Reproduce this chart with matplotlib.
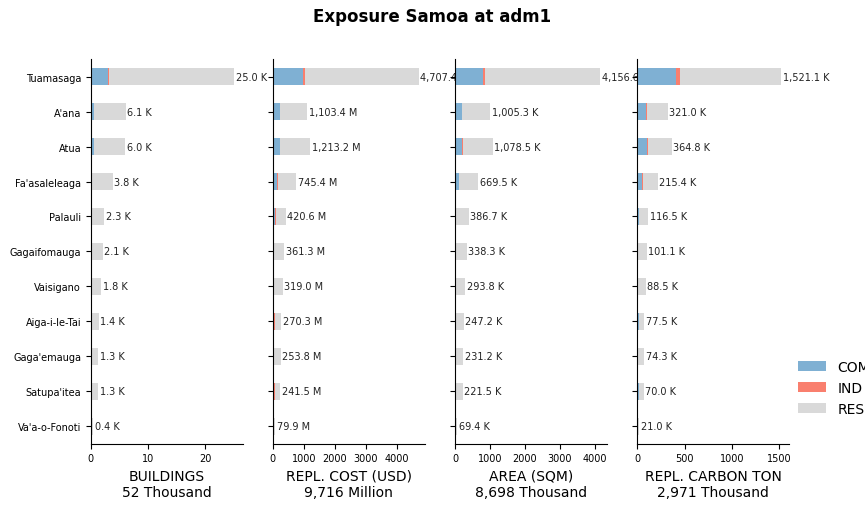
import matplotlib.pyplot as plt
import numpy as np

regions = ["Tuamasaga", "A'ana", "Atua", "Fa'asaleleaga", "Palauli", "Gagaifomauga",
           "Vaisigano", "Aiga-i-le-Tai", "Gaga'emauga", "Satupa'itea", "Va'a-o-Fonoti"]

# totals per panel
bld_tot = [25.0, 6.1, 6.0, 3.8, 2.3, 2.1, 1.8, 1.4, 1.3, 1.3, 0.4]
cost_tot = [4707.4, 1103.4, 1213.2, 745.4, 420.6, 361.3, 319.0, 270.3, 253.8, 241.5, 79.9]
area_tot = [4156.6, 1005.3, 1078.5, 669.5, 386.7, 338.3, 293.8, 247.2, 231.2, 221.5, 69.4]
carb_tot = [1521.1, 321.0, 364.8, 215.4, 116.5, 101.1, 88.5, 77.5, 74.3, 70.0, 21.0]

# commercial / industrial parts (estimated)
bld_com = [3.0, 0.5, 0.5, 0.2, 0.05, 0.05, 0.05, 0.03, 0.03, 0.03, 0.01]
bld_ind = [0.15, 0.03, 0.03, 0.02, 0.01, 0.01, 0.01, 0.01, 0.01, 0.01, 0.0]
cost_com = [980, 220, 230, 130, 80, 20, 30, 30, 15, 25, 5]
cost_ind = [70, 10, 10, 20, 5, 5, 5, 40, 5, 40, 2]
area_com = [800, 200, 210, 100, 40, 20, 30, 20, 10, 15, 3]
area_ind = [70, 10, 10, 10, 2, 2, 2, 2, 2, 2, 1]
carb_com = [410, 90, 100, 50, 20, 10, 10, 15, 5, 15, 2]
carb_ind = [40, 10, 10, 15, 3, 3, 3, 5, 3, 5, 1]

panels = [
    ("BUILDINGS\n52 Thousand", bld_tot, bld_com, bld_ind, "K", (0, 26.5), [0, 10, 20]),
    ("REPL. COST (USD)\n9,716 Million", cost_tot, cost_com, cost_ind, "M", (0, 4900), [0, 1000, 2000, 3000, 4000]),
    ("AREA (SQM)\n8,698 Thousand", area_tot, area_com, area_ind, "K", (0, 4350), [0, 1000, 2000, 3000, 4000]),
    ("REPL. CARBON TON\n2,971 Thousand", carb_tot, carb_com, carb_ind, "K", (0, 1600), [0, 500, 1000, 1500]),
]

c_com, c_ind, c_res = "#7fb0d3", "#f97f6e", "#d9d9d9"

fig, axes = plt.subplots(1, 4, figsize=(8.65, 5.1), dpi=100)
fig.subplots_adjust(left=0.105, right=0.912, top=0.882, bottom=0.128, wspace=0.2)
fig.suptitle("Exposure Samoa at adm1", fontsize=12, fontweight="bold", y=0.985)

y = np.arange(len(regions))
for i, (ax, (title, tot, com, ind, unit, xlim, ticks)) in enumerate(zip(axes, panels)):
    tot = np.array(tot); com = np.array(com); ind = np.array(ind)
    res = tot - com - ind
    ax.barh(y, com, height=0.5, color=c_com, label="COM")
    ax.barh(y, ind, left=com, height=0.5, color=c_ind, label="IND")
    ax.barh(y, res, left=com + ind, height=0.5, color=c_res, label="RES")
    for yy, t in zip(y, tot):
        ax.text(t + xlim[1] * 0.01, yy, f"{t:,.1f} {unit}", va="center", fontsize=7, color="#222222")
    ax.set_xlim(*xlim)
    ax.set_xticks(ticks)
    ax.set_ylim(len(regions) - 0.5, -0.5)
    ax.set_yticks(y)
    ax.set_yticklabels(regions if i == 0 else [""] * len(regions), fontsize=7)
    ax.tick_params(axis="x", labelsize=7)
    ax.set_xlabel(title, fontsize=10)
    for s in ["top", "right"]:
        ax.spines[s].set_visible(False)

axes[-1].legend(loc="lower left", bbox_to_anchor=(0.98, 0.04), frameon=False, fontsize=10)
fig.savefig("out.png", dpi=100)
